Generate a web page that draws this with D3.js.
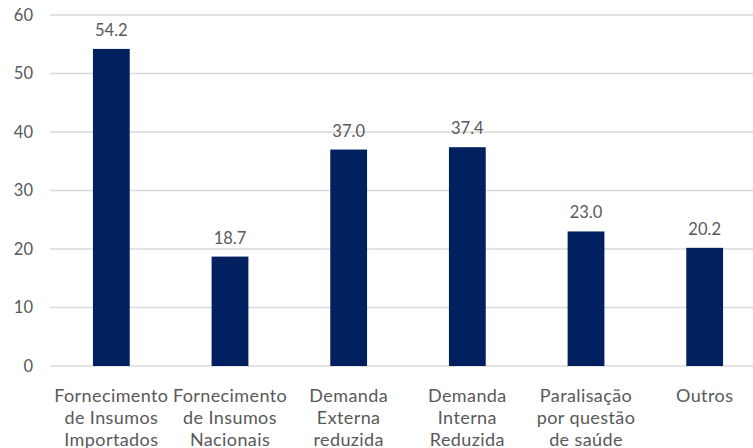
<!DOCTYPE html>
<html>
<head>
<meta charset="utf-8">
<script src="https://cdn.jsdelivr.net/npm/d3@7"></script>
<style>
  html, body { margin: 0; padding: 0; background: #fff; }
  svg { display: block; }
  text { font-family: Lato, "Open Sans", sans-serif; fill: #595959; }
</style>
</head>
<body>
<svg id="chart" width="753" height="448"></svg>
<script>
const categories = [
  ["Fornecimento", "de Insumos", "Importados"],
  ["Fornecimento", "de Insumos", "Nacionais"],
  ["Demanda", "Externa", "reduzida"],
  ["Demanda", "Interna", "Reduzida"],
  ["Paralisação", "por questão", "de saúde"],
  ["Outros"]
];
const values = [54.2, 18.7, 37.0, 37.4, 23.0, 20.2];
const yTicks = [0, 10, 20, 30, 40, 50, 60];

const svg = d3.select("#chart");
const x = d3.scaleBand()
  .domain(d3.range(categories.length))
  .range([52, 764])
  .paddingInner(0.69)
  .paddingOuter(0.345);
const y = d3.scaleLinear().domain([0, 60]).range([366, 15]);

// gridlines
svg.append("g")
  .selectAll("line")
  .data(yTicks)
  .join("line")
  .attr("x1", 50).attr("x2", 753)
  .attr("y1", d => y(d)).attr("y2", d => y(d))
  .attr("stroke", "#d9d9d9").attr("stroke-width", 1.3);

// y axis labels
const yAxis = d3.axisLeft(y).tickValues(yTicks).tickSize(0).tickPadding(0).tickFormat(d3.format("d"));
svg.append("g")
  .attr("transform", "translate(33,0)")
  .call(yAxis)
  .call(g => g.select(".domain").remove())
  .call(g => g.selectAll("text").style("font-size", "16.5px").attr("fill", "#595959")
    .style("font-family", 'Lato, "Open Sans", sans-serif'));

// bars
svg.append("g")
  .selectAll("rect")
  .data(values)
  .join("rect")
  .attr("x", (d, i) => x(i))
  .attr("width", x.bandwidth())
  .attr("y", d => y(d))
  .attr("height", d => y(0) - y(d))
  .attr("fill", "#002060");

// value labels
svg.append("g")
  .selectAll("text")
  .data(values)
  .join("text")
  .attr("x", (d, i) => x(i) + x.bandwidth() / 2)
  .attr("y", d => y(d) - 13)
  .attr("text-anchor", "middle")
  .style("font-size", "16.5px")
  .text(d => d.toFixed(1));

// category labels
const xAxis = d3.axisBottom(x).tickSize(0).tickFormat("");
const xg = svg.append("g").attr("transform", `translate(0,${y(0)})`).call(xAxis);
xg.select(".domain").remove();
xg.selectAll(".tick").each(function(i) {
  const t = d3.select(this).append("text")
    .attr("text-anchor", "middle")
    .attr("y", 36)
    .style("font-size", "18px")
    .style("letter-spacing", "0.4px")
    .attr("fill", "#595959");
  categories[i].forEach((line, k) => {
    t.append("tspan").attr("x", 0).attr("dy", k === 0 ? 0 : 22).text(line);
  });
});
</script>
</body>
</html>
